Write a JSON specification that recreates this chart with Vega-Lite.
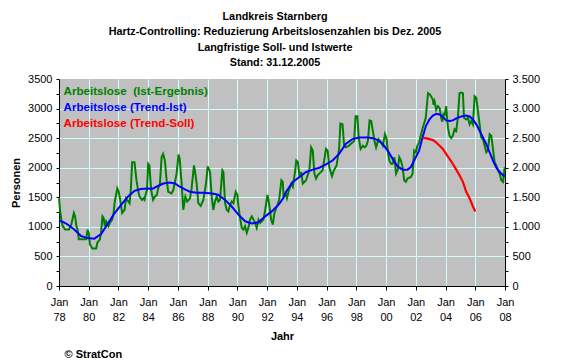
{
  "$schema": "https://vega.github.io/schema/vega-lite/v6.json",
  "width": 446,
  "height": 207,
  "autosize": {"type": "none"},
  "padding": {"left": 59, "top": 79, "right": 57, "bottom": 74},
  "background": "white",
  "title": {
    "text": ["Landkreis Starnberg", "Hartz-Controlling: Reduzierung Arbeitslosenzahlen bis Dez. 2005", "Langfristige Soll- und Istwerte", "Stand: 31.12.2005"],
    "anchor": "middle", "frame": "bounds", "offset": 5,
    "font": "Liberation Sans", "fontSize": 10.8, "fontWeight": "bold", "lineHeight": 15.5, "color": "black"
  },
  "config": {
    "view": {"fill": "#C0C0C0", "stroke": null},
    "font": "Liberation Sans",
    "legend": {"padding": 0},
    "axis": {
      "labelFont": "Liberation Sans", "titleFont": "Liberation Sans",
      "labelColor": "black", "titleColor": "black", "tickColor": "black", "domainColor": "black",
      "gridColor": "#CCFFFF", "gridWidth": 1, "labelFontSize": 11, "titleFontSize": 11, "titleFontWeight": "bold",
      "tickSize": 3
    }
  },
  "datasets": {
    "ist": [
      {"t":1978,"v":1483},{"t":1978.08,"v":1261},{"t":1978.17,"v":1100},{"t":1978.25,"v":1011},{"t":1978.42,"v":955},{"t":1978.67,"v":955},{"t":1978.83,"v":1040},{"t":1979,"v":1233},{"t":1979.08,"v":1180},{"t":1979.17,"v":1011},{"t":1979.25,"v":955},{"t":1979.33,"v":790},{"t":1979.58,"v":790},{"t":1979.83,"v":790},{"t":1979.92,"v":955},{"t":1980,"v":900},{"t":1980.08,"v":705},{"t":1980.25,"v":633},{"t":1980.5,"v":633},{"t":1980.58,"v":733},{"t":1980.75,"v":790},{"t":1980.83,"v":900},{"t":1980.92,"v":1178},{"t":1981,"v":1150},{"t":1981.08,"v":1011},{"t":1981.17,"v":1094},{"t":1981.33,"v":1011},{"t":1981.42,"v":1067},{"t":1981.58,"v":1122},{"t":1981.67,"v":1233},{"t":1981.75,"v":1428},{"t":1981.92,"v":1650},{"t":1982,"v":1600},{"t":1982.08,"v":1511},{"t":1982.25,"v":1233},{"t":1982.42,"v":1290},{"t":1982.5,"v":1483},{"t":1982.67,"v":1428},{"t":1982.75,"v":1400},{"t":1982.83,"v":1622},{"t":1982.92,"v":2094},{"t":1983,"v":2094},{"t":1983.08,"v":2094},{"t":1983.21,"v":1790},{"t":1983.33,"v":1600},{"t":1983.42,"v":1511},{"t":1983.58,"v":1456},{"t":1983.67,"v":1483},{"t":1983.75,"v":1456},{"t":1983.83,"v":1550},{"t":1983.92,"v":1622},{"t":1984,"v":2067},{"t":1984.08,"v":2040},{"t":1984.2,"v":1622},{"t":1984.33,"v":1456},{"t":1984.45,"v":1511},{"t":1984.58,"v":1540},{"t":1984.67,"v":1650},{"t":1984.79,"v":1733},{"t":1984.9,"v":2178},{"t":1985,"v":2233},{"t":1985.12,"v":2122},{"t":1985.24,"v":1790},{"t":1985.35,"v":1594},{"t":1985.57,"v":1567},{"t":1985.69,"v":1622},{"t":1985.91,"v":1900},{"t":1986.04,"v":2222},{"t":1986.12,"v":2150},{"t":1986.25,"v":1733},{"t":1986.36,"v":1289},{"t":1986.5,"v":1511},{"t":1986.63,"v":1428},{"t":1986.81,"v":1483},{"t":1986.92,"v":1650},{"t":1987.08,"v":2040},{"t":1987.17,"v":1900},{"t":1987.26,"v":1733},{"t":1987.37,"v":1400},{"t":1987.53,"v":1355},{"t":1987.71,"v":1456},{"t":1987.89,"v":1733},{"t":1988,"v":2022},{"t":1988.16,"v":1928},{"t":1988.27,"v":1511},{"t":1988.38,"v":1289},{"t":1988.49,"v":1428},{"t":1988.61,"v":1511},{"t":1988.72,"v":1428},{"t":1988.83,"v":1456},{"t":1988.99,"v":1955},{"t":1989.06,"v":1928},{"t":1989.17,"v":1400},{"t":1989.28,"v":1289},{"t":1989.39,"v":1261},{"t":1989.51,"v":1372},{"t":1989.62,"v":1428},{"t":1989.73,"v":1400},{"t":1989.89,"v":1594},{"t":1990,"v":1540},{"t":1990.07,"v":1344},{"t":1990.18,"v":1150},{"t":1990.29,"v":983},{"t":1990.4,"v":955},{"t":1990.52,"v":1011},{"t":1990.63,"v":900},{"t":1990.74,"v":983},{"t":1990.85,"v":1122},{"t":1990.97,"v":1178},{"t":1991.08,"v":1122},{"t":1991.19,"v":1067},{"t":1991.3,"v":983},{"t":1991.42,"v":1122},{"t":1991.53,"v":1067},{"t":1991.64,"v":1094},{"t":1991.75,"v":1122},{"t":1991.87,"v":1289},{"t":1992.02,"v":1540},{"t":1992.13,"v":1400},{"t":1992.27,"v":1122},{"t":1992.38,"v":1039},{"t":1992.49,"v":1233},{"t":1992.65,"v":1344},{"t":1992.81,"v":1456},{"t":1992.96,"v":1789},{"t":1993.05,"v":1761},{"t":1993.11,"v":1511},{"t":1993.24,"v":1567},{"t":1993.33,"v":1483},{"t":1993.47,"v":1622},{"t":1993.62,"v":1733},{"t":1993.73,"v":1678},{"t":1993.89,"v":1956},{"t":1993.96,"v":2122},{"t":1994.07,"v":2094},{"t":1994.18,"v":1844},{"t":1994.29,"v":1928},{"t":1994.4,"v":1733},{"t":1994.62,"v":1789},{"t":1994.84,"v":1956},{"t":1994.96,"v":2344},{"t":1995.07,"v":2289},{"t":1995.18,"v":1900},{"t":1995.29,"v":1817},{"t":1995.4,"v":1872},{"t":1995.51,"v":1900},{"t":1995.73,"v":1956},{"t":1995.96,"v":2317},{"t":1996.07,"v":2289},{"t":1996.18,"v":2011},{"t":1996.36,"v":1856},{"t":1996.49,"v":1956},{"t":1996.67,"v":2039},{"t":1996.84,"v":2317},{"t":1996.93,"v":2744},{"t":1997.07,"v":2733},{"t":1997.18,"v":2372},{"t":1997.29,"v":2344},{"t":1997.51,"v":2372},{"t":1997.62,"v":2400},{"t":1997.85,"v":2450},{"t":1997.95,"v":2872},{"t":1998.07,"v":2872},{"t":1998.16,"v":2511},{"t":1998.29,"v":2317},{"t":1998.44,"v":2372},{"t":1998.56,"v":2344},{"t":1998.67,"v":2372},{"t":1998.78,"v":2456},{"t":1998.89,"v":2800},{"t":1999,"v":2789},{"t":1999.11,"v":2622},{"t":1999.22,"v":2456},{"t":1999.33,"v":2344},{"t":1999.49,"v":2483},{"t":1999.67,"v":2428},{"t":1999.78,"v":2372},{"t":1999.93,"v":2567},{"t":2000.04,"v":2483},{"t":2000.11,"v":2289},{"t":2000.22,"v":2122},{"t":2000.33,"v":2067},{"t":2000.44,"v":2067},{"t":2000.56,"v":2178},{"t":2000.67,"v":1900},{"t":2000.78,"v":1956},{"t":2000.89,"v":2178},{"t":2001,"v":2122},{"t":2001.11,"v":2011},{"t":2001.22,"v":1789},{"t":2001.33,"v":1761},{"t":2001.44,"v":1817},{"t":2001.67,"v":1844},{"t":2001.78,"v":1900},{"t":2001.89,"v":2289},{"t":2002,"v":2261},{"t":2002.11,"v":2372},{"t":2002.22,"v":2428},{"t":2002.33,"v":2539},{"t":2002.44,"v":2650},{"t":2002.67,"v":2844},{"t":2002.82,"v":3261},{"t":2002.96,"v":3233},{"t":2003.03,"v":3206},{"t":2003.15,"v":3150},{"t":2003.19,"v":3067},{"t":2003.26,"v":3122},{"t":2003.37,"v":2983},{"t":2003.48,"v":3039},{"t":2003.6,"v":3011},{"t":2003.71,"v":2844},{"t":2003.78,"v":2778},{"t":2003.87,"v":2928},{"t":2003.93,"v":2872},{"t":2004.04,"v":3039},{"t":2004.16,"v":2678},{"t":2004.27,"v":2539},{"t":2004.38,"v":2500},{"t":2004.49,"v":2539},{"t":2004.61,"v":2650},{"t":2004.72,"v":2622},{"t":2004.83,"v":2844},{"t":2004.94,"v":3261},{"t":2005.06,"v":3272},{"t":2005.17,"v":3261},{"t":2005.24,"v":2844},{"t":2005.39,"v":2817},{"t":2005.51,"v":2844},{"t":2005.62,"v":2733},{"t":2005.73,"v":2789},{"t":2005.84,"v":2733},{"t":2005.96,"v":3206},{"t":2006.07,"v":3178},{"t":2006.18,"v":2956},{"t":2006.29,"v":2733},{"t":2006.4,"v":2511},{"t":2006.52,"v":2483},{"t":2006.63,"v":2372},{"t":2006.74,"v":2261},{"t":2006.85,"v":2289},{"t":2006.97,"v":2567},{"t":2007.08,"v":2539},{"t":2007.19,"v":2317},{"t":2007.3,"v":2094},{"t":2007.42,"v":2039},{"t":2007.53,"v":1956},{"t":2007.64,"v":1900},{"t":2007.75,"v":1789},{"t":2007.87,"v":1761},{"t":2007.98,"v":2011}
    ],
    "trend": [
      {"t":1978,"v":1110},{"t":1978.3,"v":1080},{"t":1978.58,"v":1040},{"t":1979.03,"v":955},{"t":1979.48,"v":845},{"t":1979.93,"v":810},{"t":1980.38,"v":800},{"t":1980.83,"v":880},{"t":1981.28,"v":1050},{"t":1981.73,"v":1230},{"t":1982.18,"v":1370},{"t":1982.63,"v":1510},{"t":1983.08,"v":1610},{"t":1983.5,"v":1640},{"t":1983.9,"v":1650},{"t":1984.3,"v":1645},{"t":1984.56,"v":1678},{"t":1985.01,"v":1733},{"t":1985.46,"v":1750},{"t":1985.8,"v":1733},{"t":1986.13,"v":1678},{"t":1986.47,"v":1633},{"t":1986.81,"v":1594},{"t":1987.26,"v":1578},{"t":1987.71,"v":1578},{"t":1988.16,"v":1567},{"t":1988.5,"v":1556},{"t":1988.72,"v":1540},{"t":1989.17,"v":1456},{"t":1989.62,"v":1344},{"t":1990.07,"v":1206},{"t":1990.52,"v":1094},{"t":1990.97,"v":1056},{"t":1991.42,"v":1078},{"t":1991.87,"v":1178},{"t":1992.31,"v":1261},{"t":1992.76,"v":1372},{"t":1993.07,"v":1480},{"t":1993.29,"v":1600},{"t":1993.73,"v":1761},{"t":1994.18,"v":1844},{"t":1994.62,"v":1928},{"t":1995.07,"v":1967},{"t":1995.51,"v":2000},{"t":1995.96,"v":2055},{"t":1996.4,"v":2122},{"t":1996.84,"v":2233},{"t":1997.29,"v":2400},{"t":1997.73,"v":2483},{"t":1998.18,"v":2511},{"t":1998.78,"v":2511},{"t":1999.11,"v":2500},{"t":1999.44,"v":2467},{"t":1999.78,"v":2400},{"t":2000.11,"v":2289},{"t":2000.44,"v":2150},{"t":2000.78,"v":2022},{"t":2001.11,"v":1967},{"t":2001.44,"v":1967},{"t":2001.67,"v":2011},{"t":2001.89,"v":2122},{"t":2002.22,"v":2289},{"t":2002.44,"v":2500},{"t":2002.67,"v":2700},{"t":2002.92,"v":2820},{"t":2003.15,"v":2880},{"t":2003.37,"v":2911},{"t":2003.6,"v":2900},{"t":2003.82,"v":2856},{"t":2004.04,"v":2800},{"t":2004.27,"v":2789},{"t":2004.49,"v":2800},{"t":2004.72,"v":2833},{"t":2005.06,"v":2867},{"t":2005.39,"v":2883},{"t":2005.62,"v":2867},{"t":2005.84,"v":2817},{"t":2006.07,"v":2733},{"t":2006.29,"v":2622},{"t":2006.52,"v":2511},{"t":2006.74,"v":2400},{"t":2006.97,"v":2261},{"t":2007.19,"v":2122},{"t":2007.42,"v":2000},{"t":2007.64,"v":1928},{"t":2007.87,"v":1872},{"t":2007.97,"v":1850}
    ],
    "soll": [
      {"t":2002.45,"v":2505},{"t":2002.67,"v":2500},{"t":2002.92,"v":2483},{"t":2003.15,"v":2467},{"t":2003.37,"v":2428},{"t":2003.6,"v":2372},{"t":2003.82,"v":2317},{"t":2004.04,"v":2233},{"t":2004.27,"v":2150},{"t":2004.49,"v":2067},{"t":2004.72,"v":1967},{"t":2004.94,"v":1872},{"t":2005.17,"v":1761},{"t":2005.39,"v":1594},{"t":2005.62,"v":1483},{"t":2005.84,"v":1344},{"t":2006,"v":1261}
    ]
  },
  "resolve": {"axis": {"x": "independent", "y": "independent"}},
  "layer": [
    {
      "data": {"name": "ist"},
      "mark": {"type": "line", "strokeWidth": 2},
      "encoding": {
        "x": {
          "field": "t", "type": "quantitative",
          "scale": {"domain": [1978, 2008], "nice": false, "zero": false},
          "axis": {
            "orient": "bottom", "title": "Jahr", "titlePadding": 8,
            "values": [1978,1980,1982,1984,1986,1988,1990,1992,1994,1996,1998,2000,2002,2004,2006,2008],
            "labelExpr": "['Jan', slice(toString(datum.value), 2)]",
            "labelLineHeight": 15, "labelPadding": 6, "labelAngle": 0, "labelFlush": false, "labelOverlap": false,
            "grid": true, "tickSize": 4
          }
        },
        "y": {
          "field": "v", "type": "quantitative",
          "scale": {"domain": [0, 3500], "nice": false},
          "axis": {
            "orient": "left", "title": "Personen", "titlePadding": 6,
            "values": [0,250,500,750,1000,1250,1500,1750,2000,2250,2500,2750,3000,3250,3500],
            "labelExpr": "datum.value % 500 == 0 ? datum.label : ''",
            "format": "d", "labelPadding": 4,
            "grid": true,
            "gridOpacity": {"condition": {"test": "datum.value % 500 != 0 || datum.value == 3500", "value": 0}, "value": 1}
          }
        },
        "color": {
          "datum": "Arbeitslose\u00a0 (Ist-Ergebnis)",
          "scale": {
            "domain": ["Arbeitslose\u00a0 (Ist-Ergebnis)", "Arbeitslose (Trend-Ist)", "Arbeitslose (Trend-Soll)"],
            "range": ["#008000", "#0000FF", "#FF0000"]
          },
          "legend": {
            "orient": "none", "legendX": -7, "legendY": 7, "title": null,
            "symbolOpacity": 0, "symbolSize": 0, "symbolStrokeWidth": 0, "labelOffset": 0,
            "labelFont": "Liberation Sans", "labelFontWeight": "bold", "labelFontSize": 11.6,
            "rowPadding": 3, "padding": 0,
            "encode": {"labels": {"update": {"fill": {"scale": "color", "field": "value"}}}}
          }
        }
      }
    },
    {
      "data": {"name": "trend"},
      "mark": {"type": "line", "strokeWidth": 2},
      "encoding": {
        "x": {
          "field": "t", "type": "quantitative",
          "scale": {"domain": [1978, 2008], "nice": false, "zero": false},
          "axis": {
            "orient": "bottom", "offset": 60, "title": "© StratCon", "titleAnchor": "start", "titleAlign": "left", "titleX": 5,
            "titleBaseline": "top", "titlePadding": 2,
            "labels": false, "ticks": false, "domain": false, "grid": false
          }
        },
        "y": {
          "field": "v", "type": "quantitative",
          "scale": {"domain": [0, 3500], "nice": false},
          "axis": {
            "orient": "right", "title": null,
            "values": [0,250,500,750,1000,1250,1500,1750,2000,2250,2500,2750,3000,3250,3500],
            "labelExpr": "datum.value % 500 == 0 ? replace(format(datum.value, ','), ',', '.') : ''",
            "labelPadding": 4, "grid": false
          }
        },
        "color": {"datum": "Arbeitslose (Trend-Ist)"}
      }
    },
    {
      "data": {"name": "soll"},
      "mark": {"type": "line", "strokeWidth": 2.2},
      "encoding": {
        "x": {"field": "t", "type": "quantitative", "scale": {"domain": [1978, 2008], "nice": false, "zero": false}, "axis": null},
        "y": {"field": "v", "type": "quantitative", "scale": {"domain": [0, 3500], "nice": false}, "axis": null},
        "color": {"datum": "Arbeitslose (Trend-Soll)"}
      }
    }
  ]
}
